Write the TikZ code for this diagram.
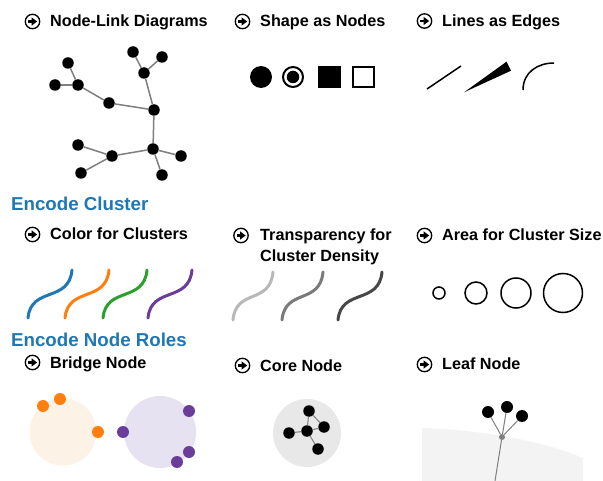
\documentclass[tikz,border=0pt]{standalone}
\usepackage{fontspec}
\setmainfont{Liberation Sans}
\definecolor{cblue}{HTML}{1F77B4}
\definecolor{corange}{HTML}{FF7F0E}
\definecolor{cgreen}{HTML}{2CA02C}
\definecolor{cpurple}{HTML}{6A3D9A}
\definecolor{edgegray}{HTML}{7F7F7F}
\definecolor{lorange}{HTML}{FDF2E6}
\definecolor{lpurple}{HTML}{E7E2F2}
\definecolor{lgray}{HTML}{E8E8E8}
\definecolor{vlgray}{HTML}{F3F3F3}
\tikzset{
  title/.style={anchor=base west, inner sep=0pt, font=\fontsize{16.2}{19}\selectfont\bfseries},
  heading/.style={anchor=base west, inner sep=0pt, text=cblue, font=\fontsize{18.7}{22}\selectfont\bfseries},
  dot/.style={circle, fill=black, inner sep=0pt, minimum size=11.5pt},
  bigdot/.style={circle, fill=black, inner sep=0pt, minimum size=12pt},
  link/.style={draw=edgegray, line width=1.5pt},
  thinlink/.style={draw=edgegray, line width=1pt},
  scurve/.style={line width=3pt, line cap=round},
  arrowicon/.pic={
    \draw[line width=1.3pt] (0,0) circle[radius=7.2pt];
    \draw[line width=2.4pt] (-4.4,0) -- (0.5,0);
    \fill (-0.8,-4.1) -- (4.6,0) -- (-0.8,4.1) -- cycle;
  },
}
\begin{document}
\begin{tikzpicture}[x=1pt,y=-1pt]
\useasboundingbox[fill=white] (0,0) rectangle (603,481);

% ---------- titles ----------
\node[title] (tNL) at (50,27) {Node-Link Diagrams};
\pic at (32.5,21.5) {arrowicon};
\node[title] (tSN) at (260,27) {Shape as Nodes};
\pic at (242.5,21.5) {arrowicon};
\node[title] (tLE) at (442,26.5) {Lines as Edges};
\pic at (424.5,21) {arrowicon};

\node[heading] (hEC) at (11,211) {Encode Cluster};

\node[title] (tCC) at (50,240) {Color for Clusters};
\pic at (32.5,234.5) {arrowicon};
\node[title] (tTR1) at (260,241) {Transparency for};
\node[title] (tTR2) at (260,262) {Cluster Density};
\pic at (241,235.5) {arrowicon};
\node[title] (tAC) at (442,241) {Area for Cluster Size};
\pic at (424.5,235.5) {arrowicon};

\node[heading] (hNR) at (11,347) {Encode Node Roles};

\node[title] (tBN) at (50,368) {Bridge Node};
\pic at (32.5,362.5) {arrowicon};
\node[title] (tCN) at (260,371) {Core Node};
\pic at (242.5,365.5) {arrowicon};
\node[title] (tLN) at (442,370) {Leaf Node};
\pic at (424.5,364.5) {arrowicon};

% ---------- node-link diagram ----------
\node[dot] (n1) at (133,52) {};
\node[dot] (n2) at (162,57) {};
\node[dot] (n3) at (144,73) {};
\node[dot] (n4) at (68,63) {};
\node[dot] (n5) at (55,85) {};
\node[dot] (n6) at (78,85) {};
\node[dot] (n7) at (109,103) {};
\node[dot] (n8) at (154,110) {};
\node[dot] (n9) at (153,149) {};
\node[dot] (n10) at (78,145) {};
\node[dot] (n11) at (112,156) {};
\node[dot] (n12) at (81,173) {};
\node[dot] (n13) at (181,156) {};
\node[dot] (n14) at (162,175) {};
\draw[link] (n1) -- (n3);
\draw[link] (n2) -- (n3);
\draw[link] (n3) -- (n8);
\draw[link] (n4) -- (n6);
\draw[link] (n5) -- (n6);
\draw[link] (n6) -- (n7);
\draw[link] (n7) -- (n8);
\draw[link] (n8) -- (n9);
\draw[link] (n9) -- (n11);
\draw[link] (n10) -- (n11);
\draw[link] (n12) -- (n11);
\draw[link] (n9) -- (n13);
\draw[link] (n9) -- (n14);

% ---------- shapes as nodes ----------
\node[circle, fill=black, inner sep=0pt, minimum size=22pt] (s1) at (261,77) {};
\node[circle, draw=black, line width=2pt, fill=white, inner sep=0pt, minimum size=20pt] (s2) at (293,77) {};
\node[circle, fill=black, inner sep=0pt, minimum size=12.5pt] (s2i) at (293,77) {};
\node[rectangle, fill=black, inner sep=0pt, minimum size=22.5pt] (s3) at (329.5,77) {};
\node[rectangle, draw=black, line width=2pt, inner sep=0pt, minimum size=20.5pt] (s4) at (363.5,77) {};

% ---------- lines as edges ----------
\coordinate (l1a) at (427,89);
\coordinate (l1b) at (461,66);
\draw[line width=1.5pt] (l1a) -- (l1b);
\fill (464,92.3) -- (506.5,61.7) -- (511,70.7) -- cycle;
\coordinate (l3a) at (523,90);
\coordinate (l3b) at (554,63);
\draw[line width=1.5pt] (l3a) .. controls (523,72) and (538,63) .. (l3b);

% ---------- color for clusters ----------
\draw[scurve, cblue]   (28,318) .. controls (31,286) and (69,303) .. (72,270);
\draw[scurve, corange] (65,318) .. controls (68,286) and (106,303) .. (109,270);
\draw[scurve, cgreen]  (103,318) .. controls (106,286) and (144,303) .. (147,270);
\draw[scurve, cpurple] (148,318) .. controls (151,286) and (189,303) .. (192,270);

% ---------- transparency ----------
\draw[scurve, black!28] (233,320) .. controls (236,288) and (270,305) .. (273,272);
\draw[scurve, black!52] (282,320) .. controls (285,288) and (320,305) .. (323,272);
\draw[scurve, black!72] (338,320) .. controls (341,288) and (379,305) .. (382,272);

% ---------- area for cluster size ----------
\node[circle, draw=black, line width=1.5pt, inner sep=0pt, minimum size=12pt] (a1) at (439,293) {};
\node[circle, draw=black, line width=1.5pt, inner sep=0pt, minimum size=22pt] (a2) at (476,293) {};
\node[circle, draw=black, line width=1.5pt, inner sep=0pt, minimum size=30pt] (a3) at (516,293) {};
\node[circle, draw=black, line width=1.5pt, inner sep=0pt, minimum size=39pt] (a4) at (563,293) {};

% ---------- bridge node ----------
\node[circle, fill=lorange, inner sep=0pt, minimum size=67pt] (bc1) at (63,432) {};
\node[circle, fill=lpurple, inner sep=0pt, minimum size=72pt] (bc2) at (160,432) {};
\node[bigdot, fill=corange] (bo1) at (43,406) {};
\node[bigdot, fill=corange] (bo2) at (60,399) {};
\node[bigdot, fill=corange] (bo3) at (98,432) {};
\node[bigdot, fill=cpurple] (bp1) at (123,432) {};
\node[bigdot, fill=cpurple] (bp2) at (189,411) {};
\node[bigdot, fill=cpurple] (bp3) at (189,452) {};
\node[bigdot, fill=cpurple] (bp4) at (177,462) {};

% ---------- core node ----------
\node[circle, fill=lgray, inner sep=0pt, minimum size=68pt] (cc) at (307,433) {};
\node[dot] (ca) at (309,411) {};
\node[dot] (cb) at (324,427) {};
\node[dot] (cm) at (307,431) {};
\node[dot] (cd) at (289,433) {};
\node[dot] (ce) at (318,449) {};
\draw[thinlink] (ca) -- (cm);
\draw[thinlink] (ca) -- (cb);
\draw[thinlink] (cm) -- (cb);
\draw[thinlink] (cm) -- (cd);
\draw[thinlink] (cm) -- (ce);

% ---------- leaf node ----------
\fill[vlgray] (422,428) .. controls (480,430) and (540,440) .. (583,458) -- (583,481) -- (422,481) -- cycle;
\node[circle, fill=edgegray, inner sep=0pt, minimum size=6pt] (lh) at (502,437) {};
\node[bigdot] (lf1) at (488,412) {};
\node[bigdot] (lf2) at (507,407) {};
\node[bigdot] (lf3) at (522,416) {};
\coordinate (lbot) at (495,481);
\draw[thinlink] (lh) -- (lf1);
\draw[thinlink] (lh) -- (lf2);
\draw[thinlink] (lh) -- (lf3);
\draw[thinlink] (lh) -- (lbot);
\end{tikzpicture}
\end{document}
